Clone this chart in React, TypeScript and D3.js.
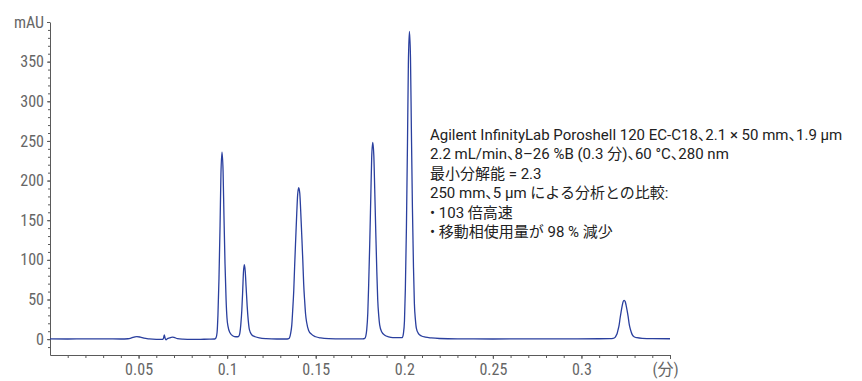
import React, { useEffect, useRef } from 'react';
import * as d3 from 'd3';

// retention time (min) and detector response (mAU)
const traceTime = [
  0.0, 0.01, 0.02, 0.03, 0.04, 0.044, 0.046, 0.048, 0.049, 0.051, 0.053, 0.056, 0.06, 0.063,
  0.064, 0.0645, 0.065, 0.0655, 0.0662, 0.0675, 0.069, 0.07, 0.072, 0.075, 0.08, 0.085, 0.09, 0.093,
  0.0937, 0.0943, 0.0948, 0.0954, 0.096, 0.0965, 0.0971, 0.0977, 0.0982, 0.0988, 0.0994, 0.0999,
  0.1005, 0.1016, 0.1033, 0.105, 0.106,
  0.1066, 0.1072, 0.1077, 0.1083, 0.1088, 0.1092, 0.1097, 0.1102, 0.1107, 0.1113, 0.1119, 0.1124,
  0.113, 0.1141, 0.1158, 0.1182, 0.122, 0.128, 0.133,
  0.1348, 0.1359, 0.1365, 0.137, 0.1376, 0.1381, 0.1387, 0.1393, 0.1398, 0.1404, 0.141, 0.1415,
  0.1421, 0.1427, 0.1432, 0.1438, 0.1443, 0.1449, 0.146, 0.1477, 0.15, 0.1528, 0.1573, 0.165, 0.172, 0.1765,
  0.1777, 0.1783, 0.1788, 0.1794, 0.1799, 0.1805, 0.1811, 0.1816, 0.1822, 0.1828, 0.1833, 0.1839,
  0.1845, 0.185, 0.1856, 0.1861, 0.1873, 0.189, 0.1912, 0.1935, 0.1965, 0.1985,
  0.199, 0.1995, 0.2001, 0.2006, 0.2012, 0.2018, 0.2023, 0.2029, 0.2035, 0.204, 0.2046, 0.2052,
  0.2057, 0.2063, 0.2068, 0.208, 0.2097, 0.2119, 0.2153, 0.2198, 0.23, 0.25, 0.27, 0.29, 0.31, 0.316,
  0.3179, 0.319, 0.3196, 0.3202, 0.3207, 0.3213, 0.3218, 0.3224, 0.323, 0.3235, 0.3241, 0.3247,
  0.3252, 0.3258, 0.3264, 0.3269, 0.3275, 0.3281, 0.3286, 0.3297, 0.3314, 0.3343, 0.34, 0.35,
];

const traceMAU = [
  0.3, 0.2, 0.4, 0.3, 0.2, 0.5, 1.5, 3.0, 3.3, 2.5, 1.2, 0.3, -0.3, -0.4,
  0.5, 5.5, 1.0, -0.8, 0.5, 1.5, 2.5, 2.2, 0.6, 0.0, -0.3, -0.2, 0.0, 0.2,
  1.5, 8, 30, 77, 143, 208, 236, 212, 156, 95, 50, 27,
  16, 8, 4, 3, 3,
  3.8, 8, 18, 37, 62, 84, 94, 86, 66, 42, 24, 14,
  9, 5, 3, 1.5, 0.6, 0.2, 0.2,
  0.8, 8, 18, 36, 61, 92, 126, 159, 182, 191, 184, 163,
  132, 100, 70, 47, 31, 21, 11, 6, 3, 1.5, 0.6, 0.3, 0.3, 0.4,
  1, 4, 12, 33, 69, 121, 180, 229, 248, 232, 190, 135,
  85, 50, 29, 18, 9, 5, 3, 2, 1.8, 2,
  2.5, 7, 23, 63, 140, 246, 346, 388, 355, 265, 165, 90,
  45, 24, 14, 7, 4, 2.5, 1.5, 0.8, 0.3, 0.2, 0.3, 0.3, 0.5, 0.6,
  1, 2.2, 4.5, 7.5, 12, 18, 26, 34.5, 42, 47, 49, 47.5,
  43, 36, 28, 20, 13.5, 9, 6, 3, 1.8, 1, 0.6, 0.5,
];

const yTicks = [0, 50, 100, 150, 200, 250, 300, 350, 400];
const yTickLabels = ['0', '50', '100', '150', '200', '250', '300', '350', 'mAU'];
const xTicks = [0.05, 0.1, 0.15, 0.2, 0.25, 0.3, 0.35];
const xTickLabels = ['0.05', '0.1', '0.15', '0.2', '0.25', '0.3', '(分)'];

const annotationLines = [
  'Agilent InfinityLab Poroshell 120 EC-C18、2.1 × 50 mm、1.9 µm',
  '2.2 mL/min、8–26 %B (0.3 分)、60 °C、280 nm',
  '最小分解能 = 2.3',
  '250 mm、5 µm による分析との比較:',
  '• 103 倍高速',
  '• 移動相使用量が 98 % 減少',
];

const AXIS_FONT = '"Roboto Condensed", Roboto, "Noto Sans CJK JP", sans-serif';
const NOTE_FONT = 'Roboto, "Noto Sans CJK JP", sans-serif';

const Chromatogram = () => {
  const svgRef = useRef(null);

  useEffect(() => {
    const svg = d3.select(svgRef.current);
    svg.selectAll('*').remove();

    const width = 862;
    const height = 381;

    const x = d3.scaleLinear().domain([0, 0.35]).range([50, 670]);
    const y = d3.scaleLinear().domain([-20, 400]).range([355, 22]);

    const axisColor = '#5a5a5a';
    const labelColor = '#666';

    // minor ticks first so the labelled ones sit on top
    svg.append('g')
      .attr('transform', 'translate(50,0)')
      .call(d3.axisLeft(y).tickValues(d3.range(-10, 400, 10)).tickSize(2).tickFormat(() => '').tickSizeOuter(0))
      .call(g => g.select('.domain').remove())
      .call(g => g.selectAll('line').attr('stroke', axisColor));

    svg.append('g')
      .attr('transform', 'translate(0,355)')
      .call(d3.axisBottom(x).tickValues(d3.range(1, 35).map(i => i / 100)).tickSize(3).tickFormat(() => '').tickSizeOuter(0))
      .call(g => g.select('.domain').remove())
      .call(g => g.selectAll('line').attr('stroke', axisColor));

    // y axis
    const yAxis = svg.append('g')
      .attr('transform', 'translate(50,0)')
      .call(d3.axisLeft(y)
        .tickValues(yTicks)
        .tickFormat((d, i) => yTickLabels[i])
        .tickSize(3)
        .tickPadding(3)
        .tickSizeOuter(0));
    yAxis.select('.domain').attr('stroke', axisColor);
    yAxis.selectAll('line').attr('stroke', axisColor);
    yAxis.selectAll('text')
      .attr('fill', labelColor)
      .style('font-family', AXIS_FONT)
      .style('font-size', '16px');

    // x axis
    const xAxis = svg.append('g')
      .attr('transform', 'translate(0,355)')
      .call(d3.axisBottom(x)
        .tickValues(xTicks)
        .tickFormat((d, i) => xTickLabels[i])
        .tickSize(4)
        .tickPadding(5)
        .tickSizeOuter(0));
    xAxis.select('.domain').attr('stroke', axisColor);
    xAxis.selectAll('line').attr('stroke', axisColor);
    xAxis.selectAll('text')
      .attr('fill', labelColor)
      .style('font-family', AXIS_FONT)
      .style('font-size', '16px');
    xAxis.selectAll('.tick').filter((d, i) => i === xTicks.length - 1)
      .select('text').attr('dx', -5);

    // trace
    const points = traceTime.map((t, i) => [t, traceMAU[i]]);
    const line = d3.line()
      .x(d => x(d[0]))
      .y(d => y(d[1]))
      .curve(d3.curveMonotoneX);

    svg.append('path')
      .datum(points)
      .attr('d', line)
      .attr('fill', 'none')
      .attr('stroke', '#2a3f9e')
      .attr('stroke-width', 1.3)
      .attr('stroke-linejoin', 'round');

    // method annotation; the ideographic comma is set half width as in the original
    const note = svg.append('g')
      .attr('fill', '#222')
      .style('font-family', NOTE_FONT)
      .style('font-size', '15px');
    annotationLines.forEach((txt, i) => {
      const t = note.append('text')
        .attr('x', 430)
        .attr('y', 139.5 + i * 19.5);
      txt.split('、').forEach((part, j) => {
        if (j > 0) {
          t.append('tspan')
            .style('font-feature-settings', '"halt"')
            .text('、');
        }
        t.append('tspan').text(part);
      });
    });

    svg.attr('width', width).attr('height', height);
  }, []);

  return (
    <svg
      ref={svgRef}
      width={862}
      height={381}
      style={{ position: 'absolute', left: 0, top: 0, background: '#fff' }}
    />
  );
};

export default function App() {
  return <Chromatogram />;
}
